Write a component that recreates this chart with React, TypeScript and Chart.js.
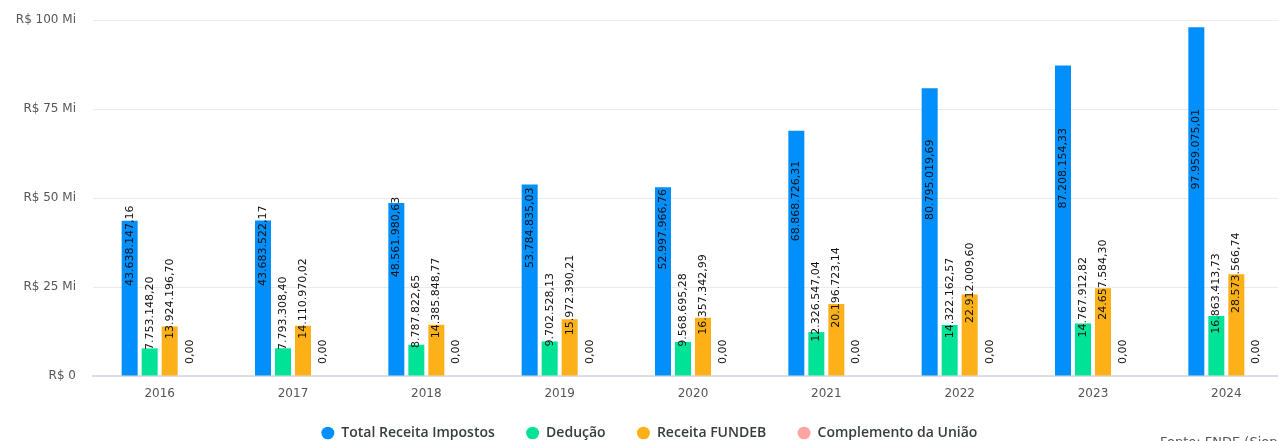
import React, { useEffect, useRef } from "react";
import { Chart, registerables } from "chart.js";

Chart.register(...registerables);

const years = ["2016", "2017", "2018", "2019", "2020", "2021", "2022", "2023", "2024"];
const totalReceitaImpostos = [43638147.16, 43683522.17, 48561980.63, 53784835.03, 52997966.76, 68868726.31, 80795019.69, 87208154.33, 97959075.01];
const deducao = [7753148.2, 7793308.4, 8787822.65, 9702528.13, 9568695.28, 12326547.04, 14322162.57, 14767912.82, 16863413.73];
const receitaFundeb = [13924196.7, 14110970.02, 14385848.77, 15972390.21, 16357342.99, 20196723.14, 22912009.6, 24657584.3, 28573566.74];
const complementoUniao = [0, 0, 0, 0, 0, 0, 0, 0, 0];
const yTickLabels = ["R$ 0", "R$ 25 Mi", "R$ 50 Mi", "R$ 75 Mi", "R$ 100 Mi"];
const sourceNote = "Fonte: FNDE (Siope)";

function formatBR(v: number): string {
  const fixed = v.toFixed(2);
  const [intPart, dec] = fixed.split(".");
  const withDots = intPart.replace(/\B(?=(\d{3})+(?!\d))/g, ".");
  return withDots + "," + dec;
}

const labelPlugin = {
  id: "barLabels",
  afterDatasetsDraw(chart: any) {
    const ctx = chart.ctx;
    ctx.save();
    ctx.font = "11px 'DejaVu Sans'";
    ctx.fillStyle = "#111";
    ctx.textAlign = "left";
    ctx.textBaseline = "middle";
    chart.data.datasets.forEach((ds: any, i: number) => {
      const meta = chart.getDatasetMeta(i);
      meta.data.forEach((bar: any, j: number) => {
        const p = bar.getProps(["x", "y", "base"], true);
        const mid = (p.y + p.base) / 2;
        ctx.save();
        ctx.translate(p.x, mid - 12);
        ctx.rotate(-Math.PI / 2);
        ctx.fillText(formatBR(ds.data[j]), 0, 0);
        ctx.restore();
      });
    });
    ctx.restore();
  },
  afterDraw(chart: any) {
    const ctx = chart.ctx;
    ctx.save();
    ctx.font = "13px 'DejaVu Sans'";
    ctx.fillStyle = "#555";
    ctx.textAlign = "left";
    ctx.textBaseline = "top";
    ctx.fillText(sourceNote, 1160, 436);
    ctx.restore();
  },
};

export default function App() {
  const ref = useRef<HTMLCanvasElement>(null);
  useEffect(() => {
    if (!ref.current) return;
    const chart = new Chart(ref.current, {
      type: "bar",
      data: {
        labels: years,
        datasets: [
          { label: "Total Receita Impostos", data: totalReceitaImpostos, backgroundColor: "#008ffb" },
          { label: "Dedução", data: deducao, backgroundColor: "#00e396" },
          { label: "Receita FUNDEB", data: receitaFundeb, backgroundColor: "#feb019" },
          { label: "Complemento da União", data: complementoUniao, backgroundColor: "#ffa3a3" },
        ],
      },
      options: {
        responsive: false,
        animation: false,
        layout: { padding: { top: 20, left: 13, right: 7, bottom: 0 } },
        datasets: { bar: { categoryPercentage: 0.6, barPercentage: 0.8 } },
        plugins: {
          tooltip: { enabled: false },
          legend: {
            position: "bottom",
            labels: {
              usePointStyle: true,
              pointStyle: "circle",
              boxWidth: 9,
              boxHeight: 9,
              pointStyleWidth: 13,
              padding: 24,
              color: "#373d3f",
              font: { family: "'Open Sans'", size: 14, weight: "600" },
              generateLabels(chart: any) {
                const items = Chart.defaults.plugins.legend.labels.generateLabels(chart);
                return items.map((it: any) => ({ ...it, text: it.text + "  " }));
              },
            },
          },
        },
        scales: {
          x: {
            grid: { display: false, drawTicks: false },
            border: { display: true, color: "#d9dee8", width: 2 },
            ticks: { color: "#555", padding: 11, font: { family: "'DejaVu Sans'", size: 12 } },
            afterFit(scale: any) {
              scale.height = 26;
            },
          },
          y: {
            min: 0,
            max: 100000000,
            grid: { color: "#ebebeb", drawTicks: true, tickLength: 14, tickColor: "rgba(0,0,0,0)" },
            border: { display: false },
            ticks: {
              stepSize: 25000000,
              padding: 3,
              color: "#555",
              font: { family: "'DejaVu Sans'", size: 12 },
              callback: (_v: any, i: number) => yTickLabels[i],
            },
            afterFit(scale: any) {
              scale.width = 80;
            },
          },
        },
      },
      plugins: [labelPlugin],
    } as any);
    return () => chart.destroy();
  }, []);
  return (
    <div style={{ position: "fixed", left: 0, top: 0, width: 1278, height: 441, overflow: "hidden", background: "#fff" }}>
      <canvas ref={ref} width={1300} height={450} style={{ width: 1300, height: 450, display: "block" }} />
    </div>
  );
}
